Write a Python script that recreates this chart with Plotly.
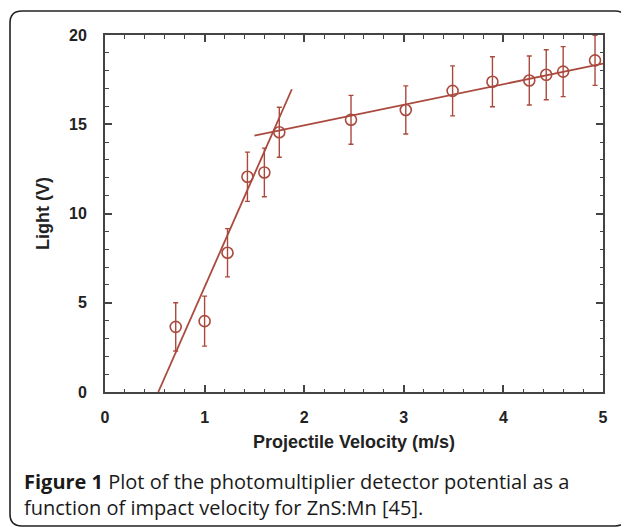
import plotly.graph_objects as go

# Data
velocity = [0.71, 1.0, 1.23, 1.43, 1.60, 1.75, 2.47, 3.02, 3.49, 3.89, 4.26, 4.43, 4.60, 4.92]
light = [3.65, 3.97, 7.8, 12.06, 12.3, 14.55, 15.25, 15.8, 16.87, 17.38, 17.45, 17.77, 17.95, 18.58]
light_err = [1.35, 1.4, 1.35, 1.38, 1.36, 1.4, 1.37, 1.35, 1.4, 1.4, 1.37, 1.4, 1.4, 1.4]

fit1_x = [0.535, 1.876]
fit1_y = [0.0, 16.96]
fit2_x = [1.5, 5.0]
fit2_y = [14.36, 18.4]

x_ticks = [0, 1, 2, 3, 4, 5]
y_ticks = [0, 5, 10, 15, 20]

COL = "#aa4a3e"
AX = "#444444"

fig = go.Figure()
fig.add_trace(go.Scatter(x=fit1_x, y=fit1_y, mode="lines",
                         line=dict(color=COL, width=1.8), showlegend=False, hoverinfo="skip"))
fig.add_trace(go.Scatter(x=fit2_x, y=fit2_y, mode="lines",
                         line=dict(color=COL, width=1.8), showlegend=False, hoverinfo="skip"))
fig.add_trace(go.Scatter(
    x=velocity, y=light, mode="markers",
    marker=dict(symbol="circle-open", size=11, color=COL, line=dict(width=1.6, color=COL)),
    error_y=dict(type="data", array=light_err, visible=True, color=COL, thickness=1.4, width=2.5),
    showlegend=False))

tickfont = dict(family="Liberation Sans, Arial", size=16, color="#222222", weight="bold")
titlefont = dict(family="Liberation Sans, Arial", size=18, color="#222222", weight="bold")

fig.update_xaxes(
    range=[0, 5], tickvals=x_ticks, ticktext=[str(v) for v in x_ticks],
    ticks="inside", ticklen=7, tickwidth=1.5, tickcolor=AX,
    minor=dict(ticks="inside", dtick=0.2, ticklen=3.5, tickwidth=1.2, tickcolor=AX),
    showline=True, linecolor=AX, linewidth=2, mirror="ticks",
    showgrid=False, zeroline=False, tickfont=tickfont, ticklabelstandoff=10,
    title=dict(text="Projectile Velocity (m/s)", font=titlefont, standoff=10),
)
fig.update_yaxes(
    range=[0, 20], tickvals=y_ticks, ticktext=[str(v) for v in y_ticks],
    ticks="inside", ticklen=7, tickwidth=1.5, tickcolor=AX,
    minor=dict(ticks="inside", dtick=1, ticklen=3.5, tickwidth=1.2, tickcolor=AX),
    showline=True, linecolor=AX, linewidth=2, mirror="ticks",
    showgrid=False, zeroline=False, tickfont=tickfont, ticklabelstandoff=13,
    title=dict(text="Light (V)", font=titlefont, standoff=15),
)

# Rounded outer frame (paper coordinates, plot area 498 x 357 px)
W, H = 498.0, 357.0
def px(x):
    return (x - 105) / W
def py(y):
    return (392 - y) / H
x0, x1, y0, y1 = px(10), px(627), py(11), py(526)
rx, ry = 12 / W, 12 / H
path = (f"M {x0+rx},{y0} L {x1-rx},{y0} Q {x1},{y0} {x1},{y0-ry} "
        f"L {x1},{y1+ry} Q {x1},{y1} {x1-rx},{y1} "
        f"L {x0+rx},{y1} Q {x0},{y1} {x0},{y1+ry} "
        f"L {x0},{y0-ry} Q {x0},{y0} {x0+rx},{y0} Z")
fig.add_shape(type="path", path=path, xref="paper", yref="paper",
              line=dict(color="#222222", width=1.6), layer="below")

fig.add_annotation(
    x=px(22), y=py(495), xref="paper", yref="paper", xanchor="left", yanchor="middle",
    align="left", showarrow=False,
    text="<b>Figure 1</b> Plot of the photomultiplier detector potential as a<br>"
         "function of impact velocity for ZnS:Mn [45].",
    font=dict(family="Open Sans", size=20, color="#1a1a1a"),
)

# page body has an 8px margin, so the figure is drawn 8px smaller and offset
fig.update_layout(
    width=621, height=519,
    margin=dict(l=97, r=26, t=27, b=135),
    paper_bgcolor="white", plot_bgcolor="white",
)

fig.write_html("out.html")
